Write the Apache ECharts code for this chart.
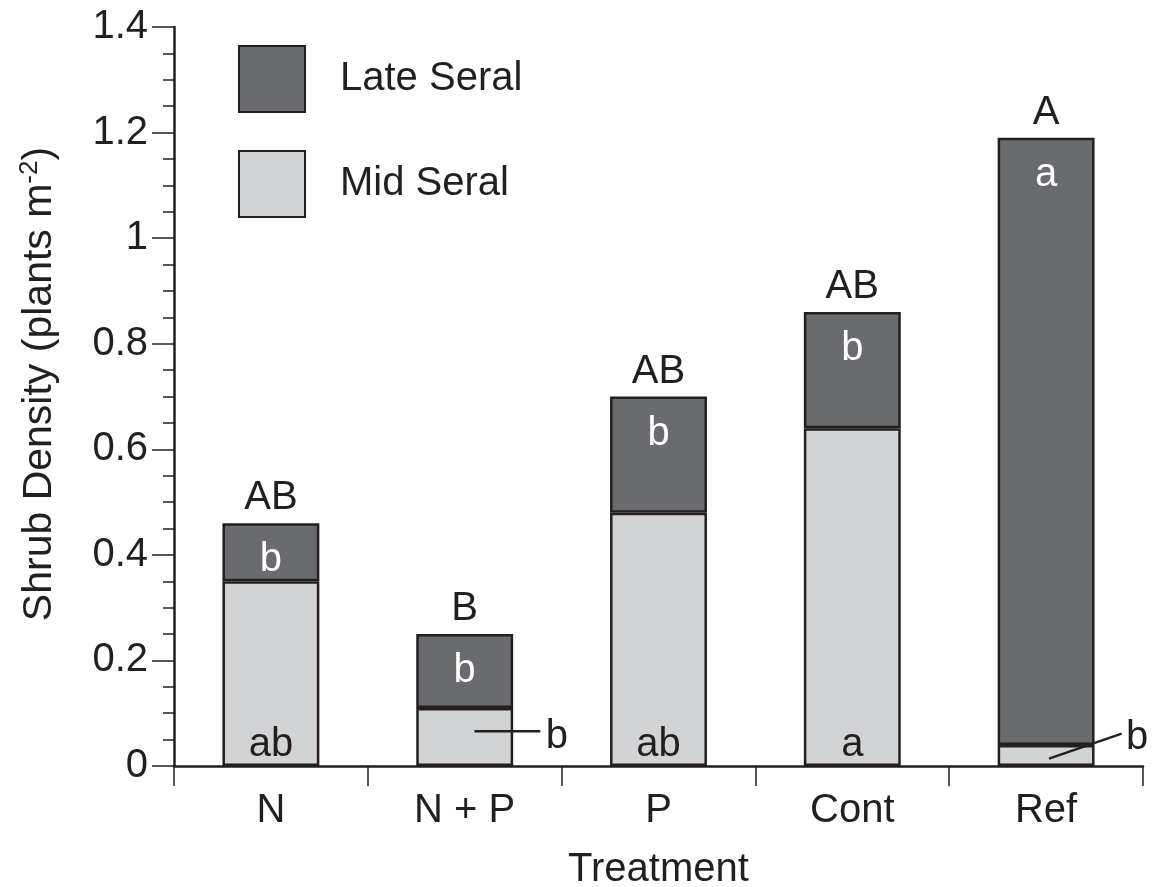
<!DOCTYPE html>
<html>
<head>
<meta charset="utf-8">
<script src="https://cdn.jsdelivr.net/npm/echarts@6/dist/echarts.min.js"></script>
<style>
html,body{margin:0;padding:0;background:#fff;}
#chart{width:1153px;height:887px;}
</style>
</head>
<body>
<div id="chart"></div>
<script>
// ---- data ----
const categories = ['N', 'N + P', 'P', 'Cont', 'Ref'];
const midSeral = [0.35, 0.11, 0.48, 0.64, 0.04];
const lateSeral = [0.11, 0.14, 0.22, 0.22, 1.15];
const totalLetters = ['AB', 'B', 'AB', 'AB', 'A'];
const lateLetters = ['b', 'b', 'b', 'b', 'a'];
const midLetters = ['ab', 'b', 'ab', 'a', 'b'];
const midLetterInside = [true, false, true, true, false];
const yTicks = [0, 0.2, 0.4, 0.6, 0.8, 1, 1.2, 1.4];

const FONT = "'Liberation Sans', Arial, Helvetica, sans-serif";
const INK = '#231f20';
const DARK = '#6a6b6f';
const LIGHT = '#d2d3d5';
const FS = 40;

const chart = echarts.init(document.getElementById('chart'), null, {renderer: 'canvas'});

const option = {
  backgroundColor: '#ffffff',
  animation: false,
  grid: {left: 174, right: 10, top: 27, bottom: 121, containLabel: false, outerBoundsMode: 'none'},
  legend: {
    orient: 'vertical',
    left: 233, top: 40,
    itemWidth: 66, itemHeight: 66,
    itemGap: 37,
    icon: 'rect',
    data: ['Late Seral', 'Mid Seral'],
    textStyle: {fontFamily: FONT, fontSize: FS, color: INK, padding: [0, 0, 0, 30]},
    selectedMode: false
  },
  xAxis: {
    type: 'category',
    data: categories,
    boundaryGap: true,
    name: 'Treatment',
    nameLocation: 'middle',
    nameGap: 84,
    nameTextStyle: {fontFamily: FONT, fontSize: FS, color: INK},
    axisLine: {lineStyle: {color: INK, width: 2.5}},
    axisTick: {show: true, alignWithLabel: false, length: 20, lineStyle: {color: INK, width: 1.5}},
    axisLabel: {fontFamily: FONT, fontSize: FS, color: INK, margin: 25},
    splitLine: {show: false}
  },
  yAxis: {
    type: 'value',
    min: yTicks[0], max: yTicks[yTicks.length - 1], interval: 0.2,
    axisLine: {show: true, lineStyle: {color: INK, width: 2.5}},
    axisTick: {show: true, length: 22, lineStyle: {color: INK, width: 1.5}},
    minorTick: {show: true, splitNumber: 4, length: 11, lineStyle: {color: INK, width: 1.5}},
    axisLabel: {fontFamily: FONT, fontSize: FS, color: INK, margin: 26,
      formatter: v => String(Math.round(v * 10) / 10)},
    splitLine: {show: false}
  },
  series: [
    {
      name: 'Mid Seral',
      type: 'bar',
      stack: 'total',
      barWidth: '50%',
      itemStyle: {color: LIGHT, borderColor: INK, borderWidth: 2.5},
      data: midSeral.map((v, i) => ({
        value: v,
        label: {show: midLetterInside[i], formatter: midLetters[i]}
      })),
      label: {position: 'insideBottom', distance: 1, fontFamily: FONT, fontSize: FS, color: INK}
    },
    {
      name: 'Late Seral',
      type: 'bar',
      stack: 'total',
      barWidth: '50%',
      itemStyle: {color: DARK, borderColor: INK, borderWidth: 2.5},
      data: lateSeral.map((v, i) => ({value: v, label: {formatter: lateLetters[i]}})),
      label: {show: true, position: 'insideTop', distance: 17, fontFamily: FONT, fontSize: FS, color: '#ffffff'}
    },
    {
      name: 'Total',
      type: 'bar',
      stack: 'total',
      barWidth: '50%',
      silent: true,
      itemStyle: {color: 'rgba(0,0,0,0)', borderWidth: 0},
      data: categories.map((c, i) => ({value: 0, label: {formatter: totalLetters[i]}})),
      label: {show: true, position: 'top', distance: 5, fontFamily: FONT, fontSize: FS, color: INK}
    }
  ],
  graphic: [
    {
      type: 'text',
      x: 40, y: 384,
      rotation: Math.PI / 2,
      z: 100,
      style: {
        text: 'Shrub Density (plants m{sup|-2})',
        fontFamily: FONT, fontSize: 41, fill: INK,
        align: 'center', verticalAlign: 'middle',
        rich: {sup: {fontFamily: FONT, fontSize: 26, fill: INK, verticalAlign: 'top', lineHeight: 46}}
      }
    }
  ]
};
chart.setOption(option);

// leader lines for the small mid-seral letters placed outside their bars
const extra = [];
const catW = chart.convertToPixel({gridIndex: 0}, [1, 0])[0] - chart.convertToPixel({gridIndex: 0}, [0, 0])[0];
// N + P : horizontal leader from inside the bar to the right
{
  const i = 1;
  const p = chart.convertToPixel({gridIndex: 0}, [i, midSeral[i] * 0.6]);
  extra.push({type: 'line', z: 100, shape: {x1: p[0] + catW * 0.05, y1: p[1], x2: p[0] + catW * 0.39, y2: p[1]},
    style: {stroke: INK, lineWidth: 2.5}});
  extra.push({type: 'text', z: 100, x: p[0] + catW * 0.475, y: p[1] + 6,
    style: {text: midLetters[i], fontFamily: FONT, fontSize: FS, fill: INK, align: 'center', verticalAlign: 'middle'}});
}
// Ref : slanted leader
{
  const i = 4;
  const p0 = chart.convertToPixel({gridIndex: 0}, [i, midSeral[i] * 0.35]);
  const p1 = chart.convertToPixel({gridIndex: 0}, [i, midSeral[i] * 1.25]);
  extra.push({type: 'line', z: 100, shape: {x1: p0[0] + catW * 0.015, y1: p0[1], x2: p0[0] + catW * 0.39, y2: p1[1] - 6},
    style: {stroke: INK, lineWidth: 2.5}});
  extra.push({type: 'text', z: 100, x: p0[0] + catW * 0.47, y: p1[1] - 2,
    style: {text: midLetters[i], fontFamily: FONT, fontSize: FS, fill: INK, align: 'center', verticalAlign: 'middle'}});
}
chart.setOption({graphic: option.graphic.concat(extra)});
</script>
</body>
</html>
